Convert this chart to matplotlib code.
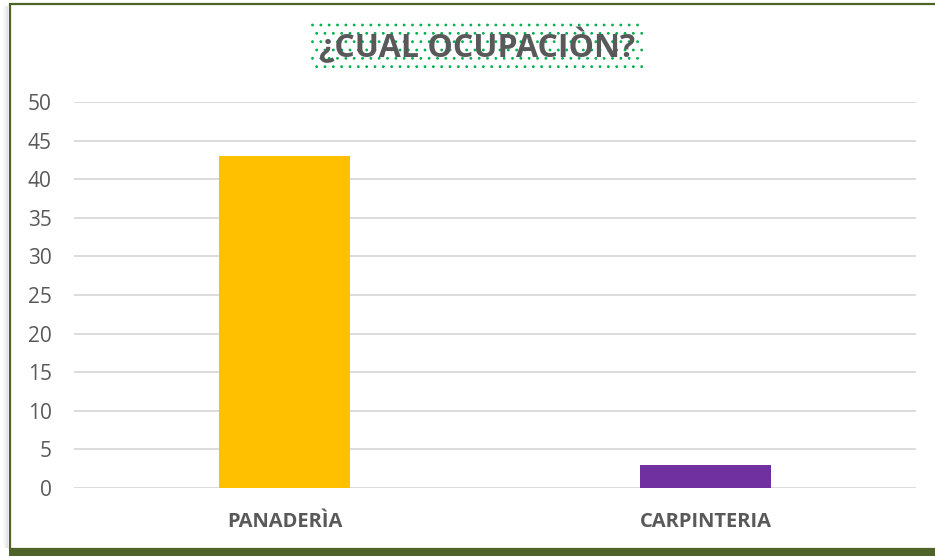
import matplotlib.pyplot as plt
from matplotlib.patches import Rectangle

categories = ["PANADERÌA", "CARPINTERIA"]
values = [43, 3]
bar_colors = ["#FFC000", "#7030A0"]
y_ticks = [0, 5, 10, 15, 20, 25, 30, 35, 40, 45, 50]
title = "¿CUAL OCUPACIÒN?"

W, H = 935, 556
plt.rcParams["font.family"] = ["Open Sans", "DejaVu Sans"]

fig = plt.figure(figsize=(W / 100, H / 100), dpi=100)
fig.patch.set_facecolor("white")

# chart frame: soft shadow on the left, olive border, heavy bottom edge
for i, a in enumerate([0.04, 0.07, 0.11, 0.16, 0.22]):
    fig.add_artist(Rectangle(((3 + i) / W, 8 / H), 1 / W, (H - 14) / H,
                             transform=fig.transFigure, facecolor="gray",
                             edgecolor="none", alpha=a))
fig.add_artist(Rectangle((9.5 / W, 7 / H), (W + 10) / W, (H - 10.5) / H,
                         transform=fig.transFigure, facecolor="none",
                         edgecolor="#4F6228", linewidth=1.6))
fig.add_artist(Rectangle((9 / W, 0), 1.1, 7 / H, transform=fig.transFigure,
                         facecolor="#4F6228", edgecolor="none"))

ax = fig.add_axes([74 / W, (H - 488) / H, 842 / W, 386 / H])
x = range(len(categories))
ax.bar(x, values, width=0.313, color=bar_colors, zorder=3)
ax.set_xlim(-0.5, len(categories) - 0.5)
ax.set_ylim(0, 50)
ax.set_yticks(y_ticks)
ax.set_xticks(list(x))
ax.set_xticklabels(categories, fontsize=14.5, fontweight="bold", color="#595959")
ax.tick_params(axis="y", length=0, pad=16, labelsize=15, labelcolor="#595959")
ax.tick_params(axis="x", length=0, pad=17)
ax.grid(axis="y", color="#D9D9D9", linewidth=1.3, zorder=0)
for s in ax.spines.values():
    s.set_visible(False)
ax.set_facecolor("none")

plt.rcParams["hatch.linewidth"] = 0.8
fig.text(477 / W, 1 - 47 / H, title, ha="center", va="center", fontsize=23,
         fontweight="bold", color="#595959",
         bbox=dict(boxstyle="square,pad=0.25", facecolor="white",
                   edgecolor="#00B050", linewidth=0, hatch=".."))

fig.savefig("out.png", dpi=100)
